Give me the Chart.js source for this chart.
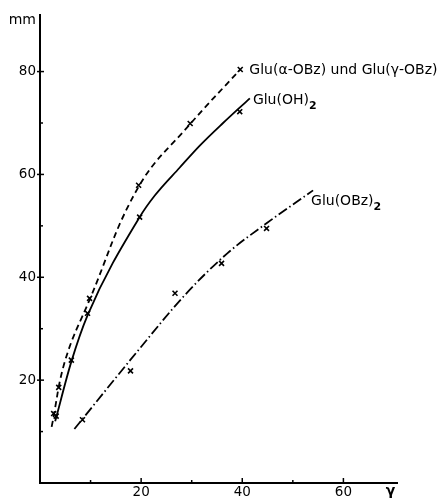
<!DOCTYPE html>
<html>
<head>
<meta charset="utf-8">
<script src="https://cdn.jsdelivr.net/npm/chart.js@4/dist/chart.umd.min.js"></script>
<style>
  html, body { margin: 0; padding: 0; background: #fff; }
  canvas { display: block; }
</style>
</head>
<body>
<canvas id="chart" width="437" height="502"></canvas>
<script>
// measured points (crosses)
const esterPointsX = [2.7, 3.7, 9.8, 19.5, 29.7, 39.6];
const esterPointsY = [13.5, 18.6, 35.9, 57.9, 69.9, 80.4];
const acidPointsX = [3.2, 6.2, 9.4, 19.7, 39.5];
const acidPointsY = [13.0, 23.9, 33.0, 51.7, 72.2];
const diesterPointsX = [8.4, 17.9, 26.7, 35.9, 44.8];
const diesterPointsY = [12.3, 21.8, 36.9, 42.7, 49.5];

// fitted curves
const esterCurveX = [2.3, 5.0, 9.8, 19.5, 29.7, 39.7];
const esterCurveY = [10.9, 23.9, 35.6, 57.6, 69.8, 80.5];
const acidCurveX = [3.0, 6.2, 9.4, 19.7, 22.7, 27.6, 31.6, 36.1, 41.5];
const acidCurveY = [12.0, 23.6, 32.6, 51.7, 55.9, 61.3, 65.6, 69.9, 74.8];
const diesterCurveX = [6.8, 19.1, 28.6, 37.1, 44.8, 54.0];
const diesterCurveY = [10.5, 25.4, 36.5, 44.7, 50.5, 56.9];

const seriesNames = ['Glu(α-OBz) und Glu(γ-OBz)', 'Glu(OH)', 'Glu(OBz)'];
const xTickLabels = [20, 40, 60];
const yTickLabels = [20, 40, 60, 80];
const yUnit = 'mm';
const xUnit = 'γ';

const FONT = '"DejaVu Sans", sans-serif';

function pairs(xs, ys) {
    return xs.map((x, i) => ({x: x, y: ys[i]}));
}

function curve(xs, ys, dash, smooth) {
    const ds = {
        type: 'line',
        data: pairs(xs, ys),
        borderColor: '#000',
        borderWidth: 1.8,
        borderDash: dash,
        pointRadius: 0,
        fill: false
    };
    if (smooth) ds.tension = smooth;
    else ds.cubicInterpolationMode = 'monotone';
    return ds;
}

function crosses(xs, ys) {
    return {
        type: 'scatter',
        data: pairs(xs, ys),
        pointStyle: 'crossRot',
        pointRadius: 3.5,
        borderColor: '#000',
        borderWidth: 1.6
    };
}

// tick marks pointing into the plot, plus the curve labels
const figureMarks = {
    id: 'figureMarks',
    afterDraw(chart) {
        const ctx = chart.ctx;
        const xs = chart.scales.x, ys = chart.scales.y;
        const left = chart.chartArea.left, bottom = chart.chartArea.bottom;
        ctx.save();
        ctx.strokeStyle = '#000';
        ctx.lineWidth = 1.5;
        ys.ticks.forEach(t => {
            if (t.value % 10 !== 0 || t.value === 0) return;
            const py = ys.getPixelForValue(t.value);
            const major = yTickLabels.includes(t.value);
            ctx.beginPath();
            ctx.moveTo(left - (major ? 3 : 0), py);
            ctx.lineTo(left + (major ? 4 : 3), py);
            ctx.stroke();
        });
        xs.ticks.forEach(t => {
            if (t.value % 10 !== 0 || t.value === 0) return;
            const px = xs.getPixelForValue(t.value);
            const major = xTickLabels.includes(t.value);
            ctx.beginPath();
            ctx.moveTo(px, bottom);
            ctx.lineTo(px, bottom - (major ? 5 : 3));
            ctx.stroke();
        });

        ctx.fillStyle = '#000';
        ctx.textBaseline = 'middle';
        ctx.textAlign = 'left';
        const label = (text, sub, dx, dy) => {
            const px = xs.getPixelForValue(dx), py = ys.getPixelForValue(dy);
            ctx.font = '14px ' + FONT;
            ctx.fillText(text, px, py);
            if (sub) {
                const w = ctx.measureText(text).width;
                ctx.font = 'bold 11px ' + FONT;
                ctx.fillText(sub, px + w, py + 6);
            }
        };
        label(seriesNames[0], '', 41.4, 80.3);
        label(seriesNames[1], '2', 42.1, 74.4);
        label(seriesNames[2], '2', 53.6, 54.8);

        ctx.font = '14px ' + FONT;
        ctx.textAlign = 'right';
        ctx.fillText(yUnit, left - 4, chart.chartArea.top + 5);
        ctx.textAlign = 'center';
        ctx.font = 'bold 14px ' + FONT;
        ctx.fillText(xUnit, xs.getPixelForValue(69.3), bottom + 8);
        ctx.restore();
    }
};

new Chart(document.getElementById('chart'), {
    data: {
        datasets: [
            curve(esterCurveX, esterCurveY, [6, 4], 0.4),
            curve(acidCurveX, acidCurveY, []),
            curve(diesterCurveX, diesterCurveY, [10, 3, 1.5, 3]),
            crosses(esterPointsX, esterPointsY),
            crosses(acidPointsX, acidPointsY),
            crosses(diesterPointsX, diesterPointsY)
        ]
    },
    options: {
        responsive: false,
        animation: false,
        layout: {padding: {top: 15, right: 40, left: 0, bottom: 0}},
        plugins: {legend: {display: false}, tooltip: {enabled: false}},
        scales: {
            x: {
                type: 'linear',
                min: 0,
                max: 70.6,
                afterFit: s => { s.height = 19; },
                grid: {drawOnChartArea: false, drawTicks: false},
                border: {color: '#000', width: 2},
                ticks: {
                    stepSize: 10,
                    padding: 1,
                    color: '#000',
                    font: {family: FONT, size: 13.5},
                    maxRotation: 0,
                    autoSkip: false,
                    callback: v => xTickLabels.includes(v) ? v : ''
                }
            },
            y: {
                type: 'linear',
                min: 0,
                max: 91,
                afterFit: s => { s.width = 40; },
                grid: {drawOnChartArea: false, drawTicks: false},
                border: {color: '#000', width: 2},
                ticks: {
                    stepSize: 10,
                    padding: 4,
                    color: '#000',
                    font: {family: FONT, size: 13.5},
                    autoSkip: false,
                    callback: v => yTickLabels.includes(v) ? v : ''
                }
            }
        }
    },
    plugins: [figureMarks]
});
</script>
</body>
</html>
